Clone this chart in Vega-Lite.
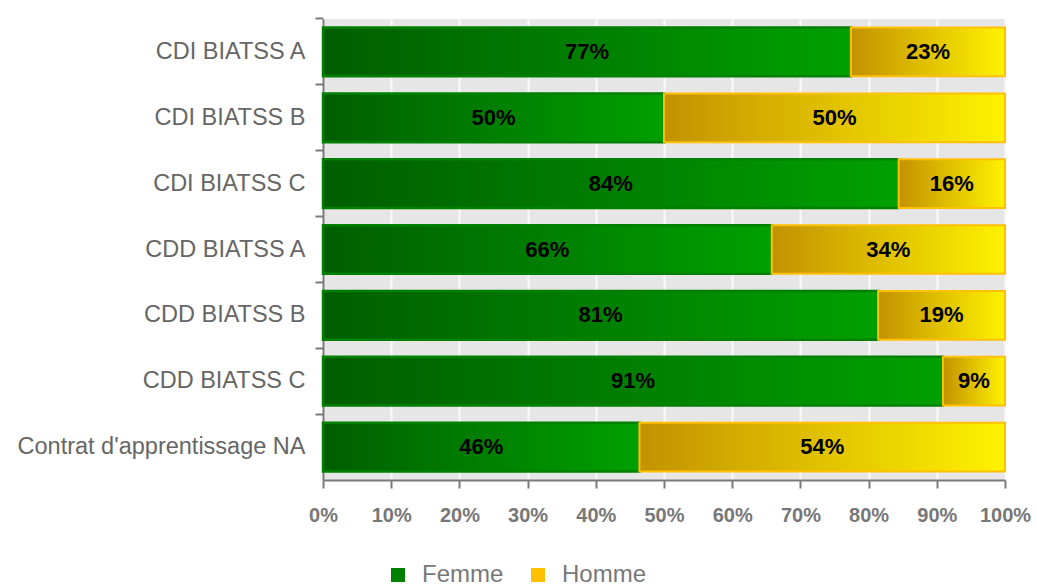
{
  "$schema": "https://vega.github.io/schema/vega-lite/v6.json",
  "width": 682,
  "height": 461,
  "autosize": {"type": "none"},
  "padding": {"left": 323, "top": 19, "right": 32, "bottom": 107},
  "background": "#ffffff",
  "config": {
    "font": "Liberation Sans",
    "view": {"fill": "#e6e6e6", "stroke": null}
  },
  "data": {
    "values": [
      {"categorie": "CDI BIATSS A", "genre": "Femme", "part": 0.774},
      {"categorie": "CDI BIATSS A", "genre": "Homme", "part": 0.226},
      {"categorie": "CDI BIATSS B", "genre": "Femme", "part": 0.5},
      {"categorie": "CDI BIATSS B", "genre": "Homme", "part": 0.5},
      {"categorie": "CDI BIATSS C", "genre": "Femme", "part": 0.844},
      {"categorie": "CDI BIATSS C", "genre": "Homme", "part": 0.156},
      {"categorie": "CDD BIATSS A", "genre": "Femme", "part": 0.658},
      {"categorie": "CDD BIATSS A", "genre": "Homme", "part": 0.342},
      {"categorie": "CDD BIATSS B", "genre": "Femme", "part": 0.814},
      {"categorie": "CDD BIATSS B", "genre": "Homme", "part": 0.186},
      {"categorie": "CDD BIATSS C", "genre": "Femme", "part": 0.909},
      {"categorie": "CDD BIATSS C", "genre": "Homme", "part": 0.091},
      {"categorie": "Contrat d'apprentissage NA", "genre": "Femme", "part": 0.464},
      {"categorie": "Contrat d'apprentissage NA", "genre": "Homme", "part": 0.536}
    ]
  },
  "transform": [
    {
      "stack": "part",
      "groupby": ["categorie"],
      "sort": [{"field": "genre", "order": "ascending"}],
      "as": ["debut", "fin"]
    },
    {"calculate": "(datum.debut + datum.fin) / 2", "as": "milieu"}
  ],
  "layer": [
    {
      "mark": {"type": "bar"},
      "encoding": {
        "y": {
          "field": "categorie",
          "type": "nominal",
          "sort": ["CDI BIATSS A", "CDI BIATSS B", "CDI BIATSS C", "CDD BIATSS A", "CDD BIATSS B", "CDD BIATSS C", "Contrat d'apprentissage NA"],
          "scale": {"paddingInner": 0.26, "paddingOuter": 0.13},
          "axis": {
            "orient": "left",
            "title": null,
            "labels": false,
            "grid": false,
            "bandPosition": -0.1757,
            "tickSize": 8,
            "tickWidth": 2,
            "tickColor": "#7a7a7a",
            "domainColor": "#7a7a7a",
            "domainWidth": 2
          }
        },
        "x": {
          "field": "debut",
          "type": "quantitative",
          "scale": {"domain": [0, 1], "nice": false},
          "axis": {
            "title": null,
            "values": [0, 0.1, 0.2, 0.3, 0.4, 0.5, 0.6, 0.7, 0.8, 0.9, 1],
            "format": ".0%",
            "labelFontSize": 20,
            "labelFontWeight": "bold",
            "labelColor": "#777777",
            "labelPadding": 17,
            "labelOverlap": false,
            "labelFlush": false,
            "tickSize": 8,
            "tickWidth": 2,
            "tickColor": "#7a7a7a",
            "domainColor": "#7a7a7a",
            "domainWidth": 2,
            "grid": true,
            "gridColor": "#fafafa",
            "gridWidth": 2
          }
        },
        "x2": {"field": "fin"},
        "color": {
          "field": "genre",
          "type": "nominal",
          "scale": {"domain": ["Femme", "Homme"], "range": ["#008000", "#ffc000"]},
          "legend": {
            "title": null,
            "orient": "none",
            "direction": "horizontal",
            "legendX": 63,
            "legendY": 544,
            "symbolType": "square",
            "symbolSize": 196,
            "symbolStrokeWidth": 0,
            "labelFontSize": 24,
            "labelColor": "#777777",
            "labelOffset": 12,
            "columnPadding": 22
          }
        }
      }
    },
    {
      "transform": [{"filter": "datum.genre === 'Femme'"}],
      "mark": {
        "type": "bar",
        "fill": {
          "gradient": "linear",
          "x1": 0, "y1": 0, "x2": 1, "y2": 0,
          "stops": [
            {"offset": 0, "color": "#005e00"},
            {"offset": 1, "color": "#00a000"}
          ]
        },
        "stroke": "#008000",
        "strokeWidth": 2.5
      },
      "encoding": {
        "y": {
          "field": "categorie",
          "type": "nominal",
          "sort": ["CDI BIATSS A", "CDI BIATSS B", "CDI BIATSS C", "CDD BIATSS A", "CDD BIATSS B", "CDD BIATSS C", "Contrat d'apprentissage NA"],
          "axis": null
        },
        "x": {"field": "debut", "type": "quantitative"},
        "x2": {"field": "fin"}
      }
    },
    {
      "transform": [{"filter": "datum.genre === 'Homme'"}],
      "mark": {
        "type": "bar",
        "fill": {
          "gradient": "linear",
          "x1": 0, "y1": 0, "x2": 1, "y2": 0,
          "stops": [
            {"offset": 0, "color": "#c29200"},
            {"offset": 1, "color": "#fff200"}
          ]
        },
        "stroke": "#ffc000",
        "strokeWidth": 2
      },
      "encoding": {
        "y": {
          "field": "categorie",
          "type": "nominal",
          "sort": ["CDI BIATSS A", "CDI BIATSS B", "CDI BIATSS C", "CDD BIATSS A", "CDD BIATSS B", "CDD BIATSS C", "Contrat d'apprentissage NA"],
          "axis": null
        },
        "x": {"field": "debut", "type": "quantitative"},
        "x2": {"field": "fin"}
      }
    },
    {
      "mark": {
        "type": "text",
        "fontWeight": "bold",
        "fontSize": 22,
        "color": "#000000",
        "align": "center",
        "baseline": "middle"
      },
      "encoding": {
        "y": {
          "field": "categorie",
          "type": "nominal",
          "sort": ["CDI BIATSS A", "CDI BIATSS B", "CDI BIATSS C", "CDD BIATSS A", "CDD BIATSS B", "CDD BIATSS C", "Contrat d'apprentissage NA"],
          "axis": {
            "orient": "left",
            "title": null,
            "ticks": false,
            "tickSize": 0,
            "domain": false,
            "grid": false,
            "labelFontSize": 23.5,
            "labelColor": "#666666",
            "labelPadding": 18,
            "labelLimit": 400
          }
        },
        "x": {"field": "milieu", "type": "quantitative"},
        "text": {"field": "part", "type": "quantitative", "format": ".0%"}
      }
    }
  ],
  "resolve": {"axis": {"y": "independent"}}
}
